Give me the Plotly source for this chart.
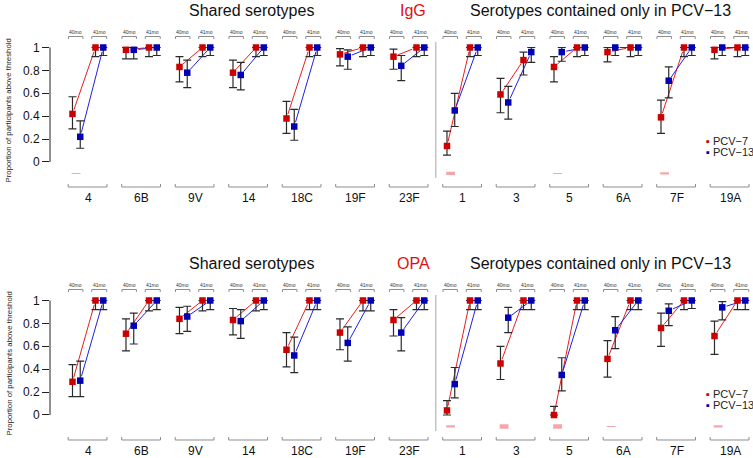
import math
import plotly.graph_objects as go

# ---------------- data ----------------
serotypes = ["4", "6B", "9V", "14", "18C", "19F", "23F", "1", "3", "5", "6A", "7F", "19A"]
time_labels = ["40mo", "41mo"]

# IgG
igg_pcv7_40 = [0.42, 0.98, 0.83, 0.78, 0.38, 0.94, 0.92, 0.14, 0.59, 0.83, 0.96, 0.39, 0.98]
igg_pcv7_40_lo = [0.29, 0.90, 0.70, 0.65, 0.25, 0.84, 0.81, 0.06, 0.43, 0.70, 0.875, 0.25, 0.90]
igg_pcv7_40_hi = [0.57, 1.00, 0.92, 0.89, 0.53, 0.99, 0.985, 0.27, 0.73, 0.92, 1.00, 0.54, 1.00]
igg_pcv13_40 = [0.22, 0.98, 0.78, 0.76, 0.31, 0.92, 0.84, 0.45, 0.52, 0.96, 1.00, 0.71, 1.00]
igg_pcv13_40_lo = [0.12, 0.90, 0.65, 0.63, 0.19, 0.81, 0.71, 0.31, 0.375, 0.88, 0.93, 0.56, 0.93]
igg_pcv13_40_hi = [0.36, 1.00, 0.89, 0.87, 0.46, 0.98, 0.93, 0.60, 0.66, 1.00, 1.00, 0.83, 1.00]
igg_pcv7_41 = [1.00, 1.00, 1.00, 1.00, 1.00, 1.00, 1.00, 1.00, 0.89, 1.00, 1.00, 1.00, 1.00]
igg_pcv7_41_lo = [0.92, 0.92, 0.92, 0.92, 0.92, 0.92, 0.92, 0.92, 0.76, 0.92, 0.92, 0.92, 0.92]
igg_pcv7_41_hi = [1.00, 1.00, 1.00, 1.00, 1.00, 1.00, 1.00, 1.00, 0.96, 1.00, 1.00, 1.00, 1.00]
igg_pcv13_41 = [1.00, 1.00, 1.00, 1.00, 1.00, 1.00, 1.00, 1.00, 0.96, 1.00, 1.00, 1.00, 1.00]
igg_pcv13_41_lo = [0.93, 0.93, 0.93, 0.93, 0.93, 0.93, 0.93, 0.93, 0.87, 0.93, 0.93, 0.93, 0.93]
igg_pcv13_41_hi = [1.00, 1.00, 1.00, 1.00, 1.00, 1.00, 1.00, 1.00, 1.00, 1.00, 1.00, 1.00, 1.00]
igg_signif = [1, 0, 0, 0, 0, 0, 0, 3, 0, 1, 0, 2, 0]

# OPA
opa_pcv7_40 = [0.29, 0.71, 0.84, 0.83, 0.57, 0.72, 0.83, 0.04, 0.45, 0.00, 0.49, 0.76, 0.69]
opa_pcv7_40_lo = [0.16, 0.56, 0.71, 0.70, 0.42, 0.57, 0.69, 0.00, 0.31, 0.00, 0.33, 0.60, 0.53]
opa_pcv7_40_hi = [0.44, 0.84, 0.94, 0.93, 0.72, 0.84, 0.92, 0.125, 0.60, 0.075, 0.65, 0.89, 0.82]
opa_pcv13_40 = [0.30, 0.78, 0.86, 0.82, 0.52, 0.63, 0.72, 0.27, 0.85, 0.35, 0.74, 0.91, 0.94]
opa_pcv13_40_lo = [0.16, 0.62, 0.73, 0.67, 0.37, 0.47, 0.56, 0.15, 0.72, 0.21, 0.58, 0.78, 0.83]
opa_pcv13_40_hi = [0.47, 0.89, 0.95, 0.92, 0.68, 0.77, 0.85, 0.415, 0.94, 0.50, 0.86, 0.97, 0.99]
opa_pcv7_41 = [1.00] * 13
opa_pcv7_41_lo = [0.92, 0.91, 0.91, 0.91, 0.92, 0.91, 0.92, 0.92, 0.92, 0.92, 0.92, 0.92, 0.92]
opa_pcv7_41_hi = [1.00] * 13
opa_pcv13_41 = [1.00] * 13
opa_pcv13_41_lo = [0.92, 0.92, 0.92, 0.92, 0.92, 0.91, 0.92, 0.92, 0.92, 0.92, 0.92, 0.93, 0.92]
opa_pcv13_41_hi = [1.00] * 13
opa_signif = [0, 0, 0, 0, 0, 0, 0, 2, 4, 4, 1, 0, 2]

y_ticks = [0, 0.2, 0.4, 0.6, 0.8, 1]
y_ticktext = ["0", "0.2", "0.4", "0.6", "0.8", "1"]

# ---------------- geometry / style ----------------
PAGE = 0                      # page margin is removed by post_script below
W, H = 753 - PAGE, 458 - PAGE
AXIS_PX = 50                  # y-axis line position (screen px)
X0PX, XSTEP = 88, 53.5        # screen px of first group, px per group
PANELS = [(47.5, 162.0), (300.5, 415.0)]  # screen px of value 1 and value 0
YMIN, YMAX = -0.35, 1.23
LM = AXIS_PX - PAGE
OFF = {"p7_40": -0.29, "p13_40": -0.145, "p7_41": 0.14, "p13_41": 0.285}
RED_M, BLUE_M = "#CC0000", "#0000B4"
RED_L, BLUE_L = "#E32020", "#2020E0"
ERR_C = "#2a2a2a"
BRK_C = "#8c8c8c"
FONT = "Liberation Sans, Arial, Helvetica, sans-serif"

xa = (AXIS_PX - X0PX) / XSTEP
xb = xa + (W - LM) / XSTEP
n = len(serotypes)
idx = list(range(n))


def xp(px):  # screen px -> paper x
    return (px - PAGE - LM) / (W - LM)


def yp(py):  # screen px -> paper y
    return 1 - (py - PAGE) / H


def shrink(x0, y0, x1, y1, ppu, gap=4.5):
    dx, dy = (x1 - x0) * XSTEP, (y1 - y0) * ppu
    d = math.hypot(dx, dy)
    if d <= 2 * gap:
        return None
    t = gap / d
    return (x0 + t * (x1 - x0), y0 + t * (y1 - y0), x1 - t * (x1 - x0), y1 - t * (y1 - y0))


panel_data = [
    dict(title="IgG",
         p7_40=(igg_pcv7_40, igg_pcv7_40_lo, igg_pcv7_40_hi),
         p13_40=(igg_pcv13_40, igg_pcv13_40_lo, igg_pcv13_40_hi),
         p7_41=(igg_pcv7_41, igg_pcv7_41_lo, igg_pcv7_41_hi),
         p13_41=(igg_pcv13_41, igg_pcv13_41_lo, igg_pcv13_41_hi),
         sig=igg_signif),
    dict(title="OPA",
         p7_40=(opa_pcv7_40, opa_pcv7_40_lo, opa_pcv7_40_hi),
         p13_40=(opa_pcv13_40, opa_pcv13_40_lo, opa_pcv13_40_hi),
         p7_41=(opa_pcv7_41, opa_pcv7_41_lo, opa_pcv7_41_hi),
         p13_41=(opa_pcv13_41, opa_pcv13_41_lo, opa_pcv13_41_hi),
         sig=opa_signif),
]

fig = go.Figure()
annotations = []
shapes = []


def ann(**kw):
    kw.setdefault("showarrow", False)
    kw.setdefault("xanchor", "center")
    kw.setdefault("yanchor", "middle")
    annotations.append(kw)


for pi, pdat in enumerate(panel_data):
    xr = "x" if pi == 0 else "x2"
    yr = "y" if pi == 0 else "y2"
    y1px, y0px = PANELS[pi]
    ppu = y0px - y1px
    dy = y0px - PANELS[0][1]   # vertical shift of this panel

    def ypx(py):
        return (y0px - py) / ppu

    # brackets (time-point brackets on top, group brackets at bottom)
    bx, by = [], []
    ytop, ytop_end = ypx(36.5 + dy), ypx(39.0 + dy)
    ybot, ybot_end = ypx(187.0 + dy), ypx(184.0 + dy)
    for i in idx:
        for (l, r) in [(-0.365, -0.095), (0.07, 0.35)]:
            bx += [i + l, i + l, i + r, i + r, None]
            by += [ytop_end, ytop, ytop, ytop_end, None]
        bx += [i - 0.37, i - 0.37, i + 0.355, i + 0.355, None]
        by += [ybot_end, ybot, ybot, ybot_end, None]
    fig.add_trace(go.Scatter(x=bx, y=by, mode="lines", line=dict(color=BRK_C, width=1),
                             hoverinfo="skip", showlegend=False, xaxis=xr, yaxis=yr))

    # significance bars
    for i, s in zip(idx, pdat["sig"]):
        if s > 0:
            fig.add_trace(go.Scatter(x=[i - 0.305, i - 0.14], y=[-0.1, -0.1], mode="lines",
                                     line=dict(color="rgba(238,120,125,0.65)", width=s * 1.1),
                                     hoverinfo="skip", showlegend=False, xaxis=xr, yaxis=yr))

    # connecting lines (with gaps around the points)
    for key40, key41, col in [("p7_40", "p7_41", RED_L), ("p13_40", "p13_41", BLUE_L)]:
        lx, ly = [], []
        for i in idx:
            s = shrink(i + OFF[key40], pdat[key40][0][i], i + OFF[key41], pdat[key41][0][i], ppu)
            if s:
                lx += [s[0], s[2], None]
                ly += [s[1], s[3], None]
        fig.add_trace(go.Scatter(x=lx, y=ly, mode="lines", line=dict(color=col, width=1),
                                 hoverinfo="skip", showlegend=False, xaxis=xr, yaxis=yr))

    # points with confidence intervals
    for key, col, name in [("p7_40", RED_M, "PCV−7"), ("p13_40", BLUE_M, "PCV−13"),
                           ("p7_41", RED_M, "PCV−7"), ("p13_41", BLUE_M, "PCV−13")]:
        v, lo, hi = pdat[key]
        fig.add_trace(go.Scatter(
            x=[i + OFF[key] for i in idx], y=v, mode="markers", name=name,
            marker=dict(symbol="square", size=6.5, color=col, line=dict(width=0)),
            error_y=dict(type="data", symmetric=False,
                         array=[h - a for h, a in zip(hi, v)],
                         arrayminus=[a - l for a, l in zip(v, lo)],
                         color=ERR_C, thickness=1.2, width=4),
            showlegend=False, xaxis=xr, yaxis=yr, cliponaxis=False))

    # group labels and time-point labels
    for i in idx:
        ann(x=i, y=ypx(198 + dy), xref=xr, yref=yr, text=serotypes[i],
            font=dict(size=12, color="#111", family=FONT))
        for c, t in zip([-0.23, 0.21], time_labels):
            ann(x=i + c, y=ypx(32.5 + dy), xref=xr, yref=yr, text=t,
                font=dict(size=5, color="#333", family=FONT))
    # titles
    ty = yp(10.5 + dy)
    ann(x=xp(252), y=ty, xref="paper", yref="paper", text="Shared serotypes",
        font=dict(size=16, color="#111", family=FONT))
    ann(x=xp(413), y=ty, xref="paper", yref="paper", text=pdat["title"],
        font=dict(size=16, color="#E01010", family=FONT))
    ann(x=xp(600), y=ty, xref="paper", yref="paper", text="Serotypes contained only in PCV−13",
        font=dict(size=16, color="#111", family=FONT))
    ann(x=xp(8.5), y=yp(111 + dy), xref="paper", yref="paper",
        text="Proportion of participants above threshold", textangle=-90,
        font=dict(size=7.8, color="#222", family=FONT))
    # legend
    for k, (t, c) in enumerate([("PCV−7", RED_M), ("PCV−13", BLUE_M)]):
        ann(x=xp(704), y=yp(141 + 11 * k + dy), xref="paper", yref="paper", xanchor="left",
            text=f"<span style='color:{c}'>▪</span> {t}",
            font=dict(size=11, color="#222", family=FONT))

    # y-axis line and separator
    shapes.append(dict(type="line", xref=f"{xr} domain", yref=yr, x0=0, x1=0, y0=0, y1=1,
                       line=dict(color="#222", width=1)))
    shapes.append(dict(type="line", xref=xr, yref=yr, x0=6.5, x1=6.5,
                       y0=ypx(178 + dy), y1=ypx(42 + dy),
                       line=dict(color="#c4c4c4", width=1.5)))

doms = []
for y1px, y0px in PANELS:
    ppu = y0px - y1px
    top = y0px - YMAX * ppu - PAGE
    bot = y0px - YMIN * ppu - PAGE
    doms.append([1 - bot / H, 1 - top / H])

yax = dict(range=[YMIN, YMAX], showgrid=False, zeroline=False, showline=False,
           tickmode="array", tickvals=y_ticks, ticktext=y_ticktext, ticks="outside",
           ticklen=7, tickcolor="#222", tickwidth=1,
           tickfont=dict(size=12, color="#111", family=FONT), fixedrange=True)
xax = dict(range=[xa, xb], visible=False, fixedrange=True)

fig.update_layout(
    width=W, height=H,
    margin=dict(l=LM, r=0, t=0, b=0),
    paper_bgcolor="white", plot_bgcolor="white",
    showlegend=False,
    xaxis=dict(xax, domain=[0, 1], anchor="y"),
    xaxis2=dict(xax, domain=[0, 1], anchor="y2"),
    yaxis=dict(yax, domain=doms[0], anchor="x"),
    yaxis2=dict(yax, domain=doms[1], anchor="x2"),
    annotations=annotations,
    shapes=shapes,
    font=dict(family=FONT),
)

fig.write_html("out.html", post_script="document.body.style.margin='0';",
               config={"displayModeBar": False})
